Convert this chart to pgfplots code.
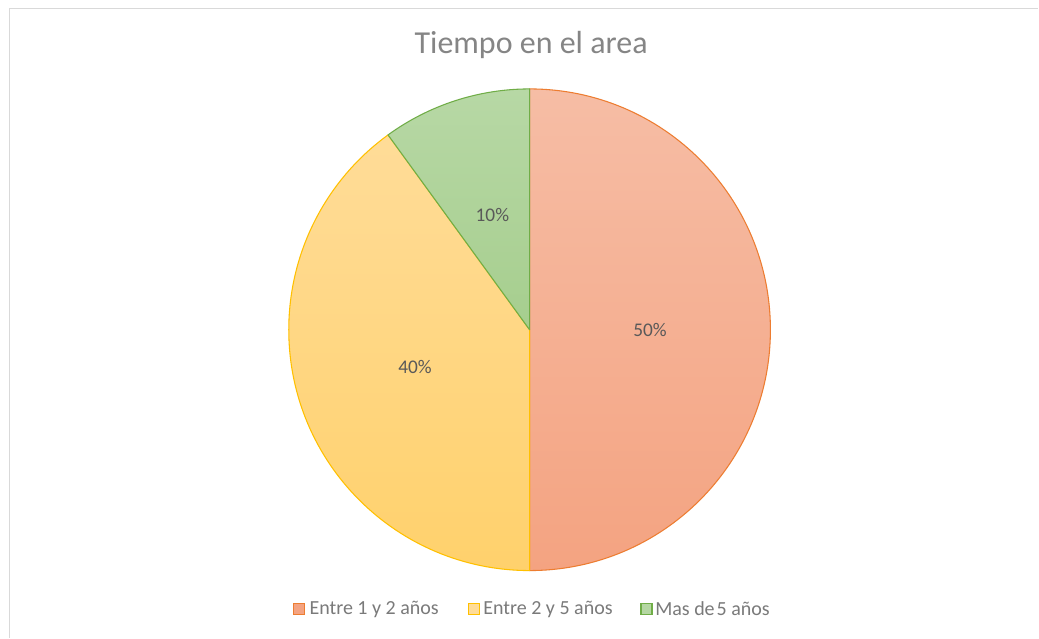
\documentclass[border=0pt]{standalone}
\usepackage{pgfplots}
\usepackage{pgfplotstable}
\usepackage{fontspec}
\setmainfont{Carlito}
\pgfplotsset{compat=1.18}

\definecolor{titlegray}{HTML}{858585}
\definecolor{labgray}{HTML}{595959}
\definecolor{leggray}{HTML}{7A7A7A}
\definecolor{framegray}{HTML}{D9D9D9}
\definecolor{oline}{HTML}{ED7D31}
\definecolor{otop}{HTML}{F6BDA5}
\definecolor{obot}{HTML}{F4A381}
\definecolor{yline}{HTML}{FFC000}
\definecolor{ytop}{HTML}{FFDC98}
\definecolor{ybot}{HTML}{FFD16C}
\definecolor{gline}{HTML}{70AD47}
\definecolor{gtop}{HTML}{B7D8A5}
\definecolor{gbot}{HTML}{A6CE8E}

\pgfplotstableread[col sep=comma]{
label,value
Entre 1 y 2 años,50
Entre 2 y 5 años,40
Mas de 5 años,10
}\piedata

\pgfplotstablegetelem{0}{value}\of\piedata \let\va\pgfplotsretval
\pgfplotstablegetelem{1}{value}\of\piedata \let\vb\pgfplotsretval
\pgfplotstablegetelem{2}{value}\of\piedata \let\vc\pgfplotsretval
\pgfmathsetmacro{\tot}{\va+\vb+\vc}
\pgfmathsetmacro{\aA}{90}
\pgfmathsetmacro{\aB}{90-\va/\tot*360}
\pgfmathsetmacro{\aC}{\aB-\vb/\tot*360}
\pgfmathsetmacro{\aD}{\aC-\vc/\tot*360}
\pgfmathsetmacro{\mA}{(\aA+\aB)/2}
\pgfmathsetmacro{\mB}{(\aB+\aC)/2}
\pgfmathsetmacro{\mC}{(\aC+\aD)/2}
\pgfmathtruncatemacro{\pA}{round(\va/\tot*100)}
\pgfmathtruncatemacro{\pB}{round(\vb/\tot*100)}
\pgfmathtruncatemacro{\pC}{round(\vc/\tot*100)}

\def\R{180.75pt}

\begin{document}
\begin{tikzpicture}
\begin{axis}[
  scale only axis,
  width=779.25pt, height=478.5pt,
  xmin=0, xmax=1039, ymin=0, ymax=638,
  hide axis, clip=false,
]
% background to fix bounds
\path[fill=white] (axis cs:0,0) rectangle (axis cs:1039,638);
% frame
\draw[framegray, line width=1.2pt] (axis cs:9.5,0) -- (axis cs:9.5,629.5) -- (axis cs:1039,629.5);

% slices
\path[top color=otop, bottom color=obot, draw=oline, line width=0.8pt, line join=round]
  (axis cs:530,308) -- ++(\aA:\R) arc[start angle=\aA, end angle=\aB, radius=\R] -- cycle;
\path[top color=ytop, bottom color=ybot, draw=yline, line width=0.8pt, line join=round]
  (axis cs:530,308) -- ++(\aB:\R) arc[start angle=\aB, end angle=\aC, radius=\R] -- cycle;
\path[top color=gtop, bottom color=gbot, draw=gline, line width=0.8pt, line join=round]
  (axis cs:530,308) -- ++(\aC:\R) arc[start angle=\aC, end angle=\aD, radius=\R] -- cycle;

% data labels
\node[labgray, font=\fontsize{14.5}{16}\selectfont] at ([shift={(\mA:0.5*\R)}]axis cs:530,308) {\pA\%};
\node[labgray, font=\fontsize{14.5}{16}\selectfont] at ([shift={(\mB:0.5*\R)}]axis cs:530,308) {\pB\%};
\node[labgray, font=\fontsize{14.5}{16}\selectfont] at ([shift={(\mC:0.5*\R)}]axis cs:530,308) {\pC\%};

% title
\node[titlegray, font=\fontsize{24}{26}\selectfont] at (axis cs:531.5,593) {Tiempo en el area};

% legend
\path[fill=obot, draw=oline, line width=0.8pt] (axis cs:293.5,23) rectangle (axis cs:304.5,34);
\node[leggray, anchor=west, inner sep=0pt, font=\fontsize{15}{16}\selectfont] at (axis cs:309.5,28.5) {Entre 1 y 2 años};
\path[fill=ytop, draw=yline, line width=0.8pt] (axis cs:468.5,23) rectangle (axis cs:479.5,34);
\node[leggray, anchor=west, inner sep=0pt, font=\fontsize{15}{16}\selectfont] at (axis cs:483.5,28.5) {Entre 2 y 5 años};
\path[fill=gtop!90!gbot, draw=gline, line width=0.8pt] (axis cs:641.5,23) rectangle (axis cs:652.5,34);
\node[leggray, anchor=west, inner sep=0pt, font=\fontsize{15}{16}\selectfont] at (axis cs:655.5,28.5) {Mas de\hspace{0.1em}5 años};
\end{axis}
\end{tikzpicture}
\end{document}
